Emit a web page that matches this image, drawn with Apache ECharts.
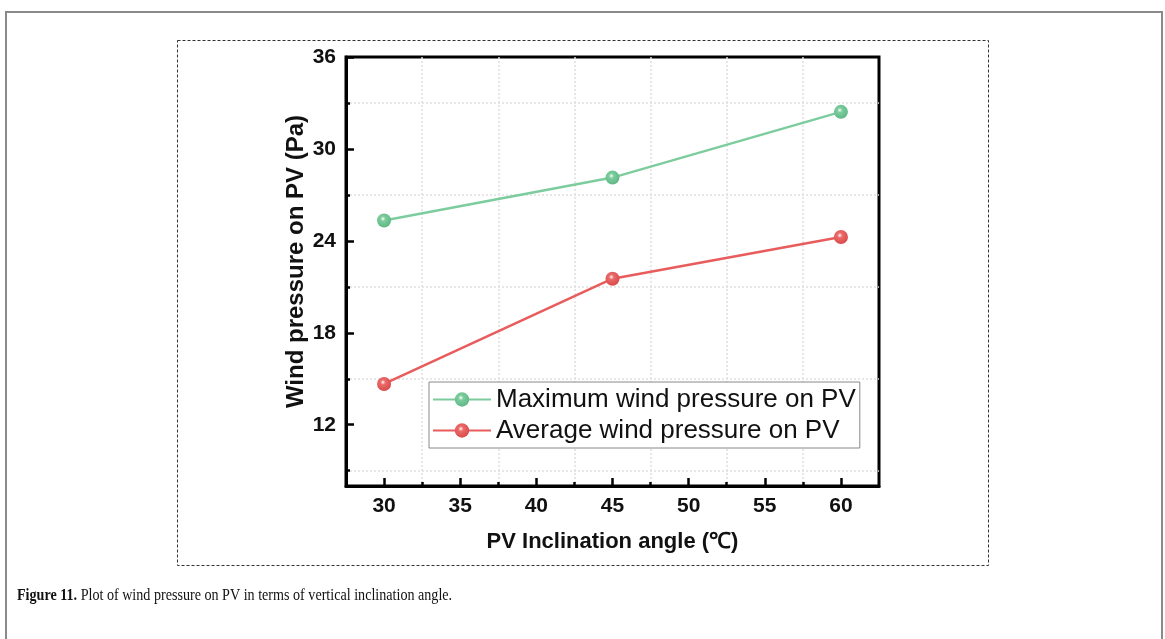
<!DOCTYPE html>
<html>
<head>
<meta charset="utf-8">
<script src="https://cdn.jsdelivr.net/npm/echarts@6/dist/echarts.min.js"></script>
<style>html,body{margin:0;padding:0;background:#fff;}#c{width:1165px;height:639px;}</style>
</head>
<body>
<div id="c"></div>
<script>
var angles = [30, 45, 60];
var maxPressure = [25.33, 28.13, 32.42];
var avgPressure = [14.66, 21.53, 24.25];
var xMajorTicks = [30, 35, 40, 45, 50, 55, 60];
var xMinorTicks = [32.5, 37.5, 42.5, 47.5, 52.5, 57.5];
var yMajorTicks = [12, 18, 24, 30, 36];
var yMinorTicks = [9, 15, 21, 27, 33];
var seriesNames = ['Maximum wind pressure on PV', 'Average wind pressure on PV'];
var xName = 'PV Inclination angle (\u2103)';
var yName = 'Wind pressure on PV (Pa)';
var captionBold = 'Figure 11.';
var captionText = ' Plot of wind pressure on PV in terms of vertical inclination angle.';

function ball(c, dark) {
  return {type: 'radial', x: 0.42, y: 0.38, r: 0.62,
    colorStops: [{offset: 0, color: '#ffffff'}, {offset: 0.28, color: c}, {offset: 1, color: dark}]};
}
function pairs(xs, ys) { return xs.map(function (x, i) { return [x, ys[i]]; }); }

var FONT = 'Liberation Sans, Arial, sans-serif';
var chart = echarts.init(document.getElementById('c'), null, {renderer: 'canvas'});
var axisCommonX = {type: 'value', min: 27.5, max: 62.5, position: 'bottom'};
var axisCommonY = {type: 'value', min: 8, max: 36, position: 'left'};
chart.setOption({
  animation: false,
  backgroundColor: '#fff',
  grid: {left: 346, top: 57, width: 533, height: 429, show: true, borderColor: '#000', borderWidth: 3, backgroundColor: 'transparent'},
  graphic: [
    {type: 'rect', shape: {x: 6, y: 12, width: 1156, height: 640}, style: {fill: 'none', stroke: '#8a8a8a', lineWidth: 2}, silent: true},
    {type: 'rect', shape: {x: 177.5, y: 40.5, width: 811, height: 525}, style: {fill: 'none', stroke: '#333', lineWidth: 1, lineDash: [3, 2]}, silent: true},
    {type: 'text', x: 17, y: 596, scaleX: 0.83, style: {
      text: '{b|' + captionBold + '}{n|' + captionText + '}', textVerticalAlign: 'middle',
      rich: {b: {fontFamily: 'Liberation Serif, Times New Roman, serif', fontWeight: 'bold', fontSize: 17, fill: '#111'},
             n: {fontFamily: 'Liberation Serif, Times New Roman, serif', fontSize: 17, fill: '#111'}}}}
  ],
  xAxis: [
    Object.assign({}, axisCommonX, {
      name: xName, nameLocation: 'middle', nameGap: 45,
      nameTextStyle: {fontFamily: FONT, fontWeight: 'bold', fontSize: 22, color: '#111'},
      axisLine: {show: true, onZero: false, lineStyle: {color: '#000', width: 3}},
      axisTick: {show: true, inside: true, length: 8, customValues: xMajorTicks, lineStyle: {color: '#000', width: 2.5}},
      axisLabel: {customValues: xMajorTicks, margin: 10, fontFamily: FONT, fontWeight: 'bold', fontSize: 21, color: '#111'},
      splitLine: {show: false}
    }),
    Object.assign({}, axisCommonX, {
      axisLine: {show: false},
      axisTick: {show: true, inside: true, length: 4, customValues: xMinorTicks, lineStyle: {color: '#000', width: 2.5}},
      axisLabel: {show: false},
      splitLine: {show: true, lineStyle: {color: '#e0e0e0', width: 1.5, type: [2, 2]}}
    })
  ],
  yAxis: [
    Object.assign({}, axisCommonY, {
      name: yName, nameLocation: 'middle', nameGap: 37,
      nameTextStyle: {fontFamily: FONT, fontWeight: 'bold', fontSize: 24, color: '#111', padding: [0, 0, 0, 20]},
      axisLine: {show: true, onZero: false, lineStyle: {color: '#000', width: 3}},
      axisTick: {show: true, inside: true, length: 8, customValues: yMajorTicks, lineStyle: {color: '#000', width: 2.5}},
      axisLabel: {customValues: yMajorTicks, margin: 10, fontFamily: FONT, fontWeight: 'bold', fontSize: 21, color: '#111'},
      splitLine: {show: false}
    }),
    Object.assign({}, axisCommonY, {
      axisLine: {show: false},
      axisTick: {show: true, inside: true, length: 4, customValues: yMinorTicks, lineStyle: {color: '#000', width: 2.5}},
      axisLabel: {show: false},
      splitLine: {show: true, lineStyle: {color: '#e0e0e0', width: 1.5, type: [2, 2]}}
    })
  ],
  legend: {
    left: 429, top: 382, orient: 'vertical',
    backgroundColor: '#fff', borderColor: '#888', borderWidth: 1,
    padding: [4, 4, 4, 3], itemGap: 4, itemWidth: 58, itemHeight: 18,
    textStyle: {fontFamily: FONT, fontSize: 26, color: '#111', lineHeight: 27},
    data: seriesNames
  },
  series: [
    {name: seriesNames[0], type: 'line', xAxisIndex: 0, yAxisIndex: 0, data: pairs(angles, maxPressure),
     symbol: 'circle', symbolSize: 14, z: 5,
     lineStyle: {color: '#7dcc9d', width: 2.5},
     itemStyle: {color: ball('#7dcc9d', '#5fb886'), borderWidth: 0}},
    {name: seriesNames[1], type: 'line', xAxisIndex: 0, yAxisIndex: 0, data: pairs(angles, avgPressure),
     symbol: 'circle', symbolSize: 14, z: 5,
     lineStyle: {color: '#e85c5c', width: 2.5},
     itemStyle: {color: ball('#ec6b6b', '#d84a4a'), borderWidth: 0}}
  ]
});
</script>
</body>
</html>
